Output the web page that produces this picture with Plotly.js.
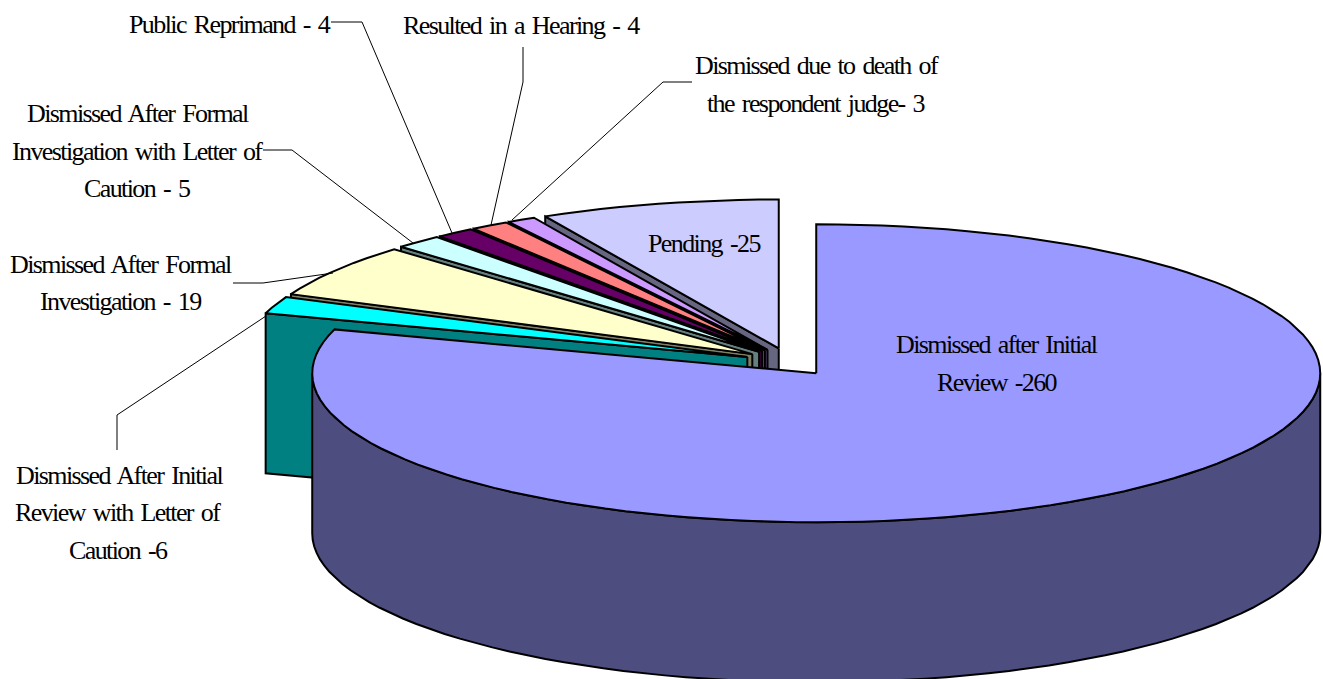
<!DOCTYPE html>
<html>
<head>
<meta charset="utf-8">
<script src="https://cdn.plot.ly/plotly-3.0.1.min.js"></script>
<style>
html,body{margin:0;padding:0;background:#fff;overflow:hidden}
#chart{width:1323px;height:679px}
.annotation-text{letter-spacing:-1.6px;word-spacing:3px}
</style>
</head>
<body>
<div id="chart"></div>
<script>
// Data, clockwise from 12 o'clock
const categories = ["Dismissed after Initial Review","Dismissed After Initial Review with Letter of Caution","Dismissed After Formal Investigation","Dismissed After Formal Investigation with Letter of Caution","Public Reprimand","Resulted in a Hearing","Dismissed due to death of the respondent judge","Pending"];
const values = [260,6,19,5,4,4,3,25];
const topColors = ["#9999FF","#00FFFF","#FFFFCC","#CCFFFF","#660066","#FF8080","#CC99FF","#CCCCFF"];
const sideColors = ["#4D4D80","#008080","#808066","#668080","#330033","#804040","#664D80","#666680"];
const labelLines = [
  ["Dismissed after Initial",997,344],["Review -260",997,382],
  ["Dismissed After Initial",119,475],["Review with Letter of",118,512],["Caution -6",118,550],
  ["Dismissed After Formal",121,264],["Investigation - 19",120,301],
  ["Dismissed After Formal",138,113],["Investigation with Letter of",137,151],["Caution - 5",137,188],
  ["Public Reprimand - 4",230,24],
  ["Resulted in a Hearing - 4",521,25],
  ["Dismissed due to death of",817,65],["the respondent judge- 3",816,103],
  ["Pending -25",704,243]
];
const leaders = [
  [[331,362,452],[22,22,233]],
  [[523,523,491],[47,82,225]],
  [[692,663,512],[82,82,220]],
  [[263,292,413],[150,150,243]],
  [[233,263,333],[283,283,273]],
  [[117,117,266],[450,415,316]]
];
// Projection
const CX=789.5, CY=362, RX=504, RY=149, EXPLODE_X=45, EXPLODE_Y=14, DEPTH=160;
const total = values.reduce((a,b)=>a+b,0);
const rad = d=>d*Math.PI/180;
const traces = [];
function poly(xs,ys,fill){
  traces.push({type:'scatter',mode:'lines',x:xs,y:ys,fill:'toself',fillcolor:fill,
    line:{color:'#000',width:2},hoverinfo:'skip',showlegend:false});
}
let acc=0;
const slices = values.map((v,i)=>{
  const a0=acc/total*360; acc+=v; const a1=acc/total*360; const mid=(a0+a1)/2;
  return {i,a0,a1,
    ax:CX+EXPLODE_X*Math.sin(rad(mid)),
    ay:CY-EXPLODE_Y*Math.cos(rad(mid))};
});
const rimX=(s,a)=>s.ax+RX*Math.sin(rad(a));
const rimY=(s,a)=>s.ay-RY*Math.cos(rad(a));
function arc(from,to){
  const n=Math.max(2,Math.ceil(Math.abs(to-from)/2.5));const a=[];
  for(let k=0;k<=n;k++)a.push(from+(to-from)*k/n);
  return a;
}
// Back to front: last slices first, biggest (front) slice last
const order = slices.slice(1).reverse().concat([slices[0]]);
order.forEach(s=>{
  const i=s.i;
  if(i===0){
    const ang=arc(90,270);
    const xs=ang.map(a=>rimX(s,a)), ys=ang.map(a=>rimY(s,a));
    poly(xs.concat(xs.slice().reverse(),[xs[0]]),ys.concat(ys.map(y=>y+DEPTH).reverse(),[ys[0]]),sideColors[i]);
  }else{
    const rx=rimX(s,s.a0), ry=rimY(s,s.a0);
    poly([s.ax,rx,rx,s.ax,s.ax],[s.ay,ry,ry+DEPTH,s.ay+DEPTH,s.ay],sideColors[i]);
  }
  const ang=arc(s.a0,s.a1);
  poly([s.ax].concat(ang.map(a=>rimX(s,a)),[s.ax]),[s.ay].concat(ang.map(a=>rimY(s,a)),[s.ay]),topColors[i]);
});
leaders.forEach(l=>traces.push({type:'scatter',mode:'lines',x:l[0],y:l[1],
  line:{color:'#000',width:1},hoverinfo:'skip',showlegend:false}));
const annotations = labelLines.map(l=>({x:l[1],y:l[2],text:l[0],showarrow:false,xanchor:'center',yanchor:'middle',
  xref:'x',yref:'y',font:{family:'"Liberation Serif",serif',size:26,color:'#000'}}));
Plotly.newPlot('chart',traces,{
  width:1323,height:679,margin:{l:0,r:0,t:0,b:0},paper_bgcolor:'#fff',plot_bgcolor:'#fff',
  xaxis:{range:[0,1323],visible:false,fixedrange:true},
  yaxis:{range:[679,0],visible:false,fixedrange:true},
  showlegend:false,annotations
},{displayModeBar:false,staticPlot:true});
</script>
</body>
</html>
